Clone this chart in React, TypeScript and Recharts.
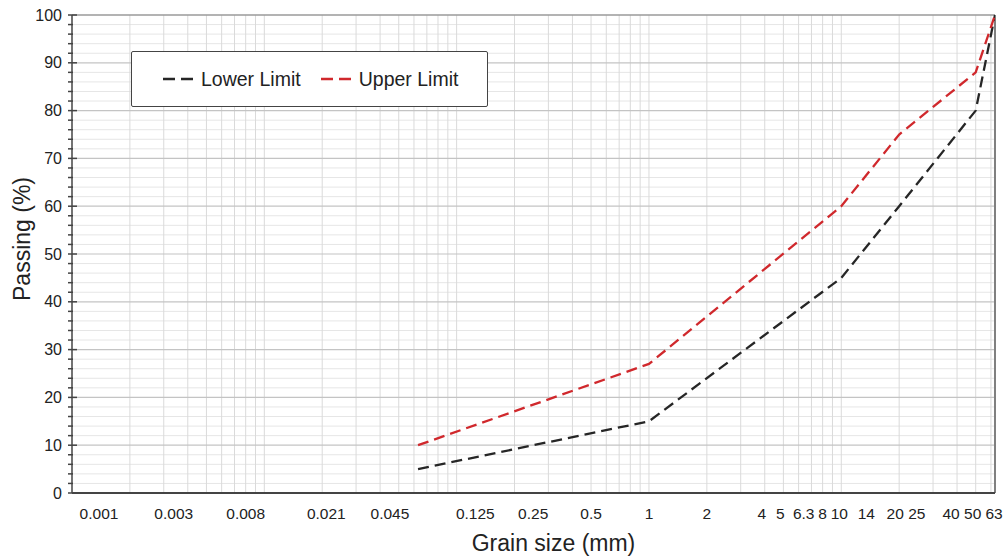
import React from "react";
import {
  LineChart,
  Line,
  XAxis,
  YAxis,
  ReferenceLine,
  Legend,
  Label,
} from "recharts";

const xTickLabels = [0.001, 0.003, 0.008, 0.021, 0.045, 0.125, 0.25, 0.5, 1, 2, 4, 5, 6.3, 8, 10, 14, 20, 25, 40, 50, 63];
const yTicks = [0, 2, 4, 6, 8, 10, 12, 14, 16, 18, 20, 22, 24, 26, 28, 30, 32, 34, 36, 38, 40, 42, 44, 46, 48, 50, 52, 54, 56, 58, 60, 62, 64, 66, 68, 70, 72, 74, 76, 78, 80, 82, 84, 86, 88, 90, 92, 94, 96, 98, 100];

const lowerSize = [0.063, 1, 10, 20, 50, 63];
const lowerPassing = [5, 15, 45, 60, 80, 100];
const upperSize = [0.063, 1, 10, 20, 50, 63];
const upperPassing = [10, 27, 60, 75, 88, 100];

const lowerData = lowerSize.map((x, i) => ({ x, p: lowerPassing[i] }));
const upperData = upperSize.map((x, i) => ({ x, p: upperPassing[i] }));

// log gridlines 1..9 x 10^k
const vGrid: number[] = [];
[0.001, 0.01, 0.1, 1, 10].forEach((d) => {
  for (let m = 1; m <= 9; m++) {
    const v = +(m * d).toPrecision(3);
    if (v > 0.001 && v < 63) vGrid.push(v);
  }
});
const hMinor = yTicks.filter((v) => v % 10 !== 0 && v > 0 && v < 100);
const hMajor = yTicks.filter((v) => v % 10 === 0 && v > 0 && v < 100);

const FONT = "'Liberation Sans', Arial, sans-serif";
// horizontal nudges of tick text (label layout only)
const labelShift: Record<string, number> = {
  "0.001": 27,
  "0.003": 10,
  "4": -3,
  "5": -3,
  "6.3": 1,
  "10": -2,
  "14": -3,
  "20": -4,
  "25": -1,
  "40": -6,
  "50": -3,
  "63": -1,
};

const XTick = (props: any) => {
  const { x, y, payload } = props;
  const key = String(payload.value);
  const dx = labelShift[key] || 0;
  return (
    <text x={x + dx} y={y + 26} textAnchor="middle" fontSize={15.5} fontFamily={FONT} fill="#222">
      {key}
    </text>
  );
};

const YTick = (props: any) => {
  const { x, y, payload } = props;
  const major = payload.value % 10 === 0;
  return (
    <g>
      <line x1={x - 4} x2={major ? x + 5 : x + 1} y1={y} y2={y} stroke="#444" strokeWidth={1.5} />
      {major && (
        <text x={x - 10} y={y + 5.5} textAnchor="end" fontSize={16} fontFamily={FONT} fill="#222">
          {payload.value}
        </text>
      )}
    </g>
  );
};

const XTitle = (props: any) => {
  const vb = props.viewBox;
  return (
    <text x={vb.x + vb.width / 2 + 20} y={vb.y + 58} textAnchor="middle" fontSize={23} fontFamily={FONT} fill="#222">
      Grain size (mm)
    </text>
  );
};

const YTitle = () => (
  <text
    x={22}
    y={239}
    transform="rotate(-90 22 239)"
    textAnchor="middle"
    dominantBaseline="central"
    fontSize={23}
    fontFamily={FONT}
    fill="#222"
  >
    Passing (%)
  </text>
);

const LegendBox = () => (
  <div
    style={{
      width: 357,
      height: 56,
      boxSizing: "border-box",
      border: "1.5px solid #444",
      borderRadius: 2,
      background: "#fff",
      display: "flex",
      alignItems: "center",
      paddingLeft: 31,
      fontFamily: FONT,
      fontSize: 19.5,
      color: "#222",
      whiteSpace: "nowrap",
    }}
  >
    <svg width={34} height={10} style={{ marginRight: 4 }}>
      <line x1={0} x2={34} y1={5} y2={5} stroke="#262626" strokeWidth={2.3} strokeDasharray="12 6" />
    </svg>
    <span>Lower Limit</span>
    <svg width={34} height={10} style={{ marginLeft: 20, marginRight: 4 }}>
      <line x1={0} x2={34} y1={5} y2={5} stroke="#d0282c" strokeWidth={2.3} strokeDasharray="12 6" />
    </svg>
    <span>Upper Limit</span>
  </div>
);

export default function App() {
  return (
    <div style={{ position: "absolute", left: 0, top: 0, background: "#fff" }}>
      <LineChart width={1005} height={556} margin={{ top: 15, right: 10, bottom: 0, left: 0 }}>
        <XAxis
          dataKey="x"
          type="number"
          scale="log"
          domain={[0.001, 63]}
          ticks={xTickLabels}
          allowDataOverflow
          interval={0}
          height={63}
          tickLine={false}
          tickSize={0}
          tickMargin={0}
          axisLine={{ stroke: "#444", strokeWidth: 2 }}
          tick={<XTick />}
        >
          <Label content={<XTitle />} />
        </XAxis>
        <YAxis
          dataKey="p"
          type="number"
          domain={[0, 100]}
          ticks={yTicks}
          interval={0}
          width={72}
          tickLine={false}
          tickSize={0}
          tickMargin={0}
          axisLine={{ stroke: "#444", strokeWidth: 1.5 }}
          tick={<YTick />}
        >
          <Label content={<YTitle />} />
        </YAxis>
        {hMinor.map((v) => (
          <ReferenceLine key={"hm" + v} y={v} stroke="#e6e6e6" strokeWidth={1} ifOverflow="visible" />
        ))}
        {vGrid.map((v) => (
          <ReferenceLine key={"v" + v} x={v} stroke="#dadada" strokeWidth={1} ifOverflow="visible" />
        ))}
        {hMajor.map((v) => (
          <ReferenceLine key={"hM" + v} y={v} stroke="#c4c4c4" strokeWidth={1.2} ifOverflow="visible" />
        ))}
        <ReferenceLine y={100} stroke="#9a9a9a" strokeWidth={1.5} ifOverflow="visible" />
        <ReferenceLine x={63} stroke="#808080" strokeWidth={2} ifOverflow="visible" />
        <Line
          data={lowerData}
          dataKey="p"
          type="linear"
          stroke="#262626"
          strokeWidth={2.3}
          strokeDasharray="11 6"
          dot={false}
          isAnimationActive={false}
          name="Lower Limit"
        />
        <Line
          data={upperData}
          dataKey="p"
          type="linear"
          stroke="#d0282c"
          strokeWidth={2.3}
          strokeDasharray="11 6"
          dot={false}
          isAnimationActive={false}
          name="Upper Limit"
        />
        <Legend
          layout="horizontal"
          verticalAlign="middle"
          align="center"
          content={<LegendBox />}
          wrapperStyle={{ position: "absolute", left: 131, top: 51, width: 357, height: 56 }}
        />
      </LineChart>
    </div>
  );
}
